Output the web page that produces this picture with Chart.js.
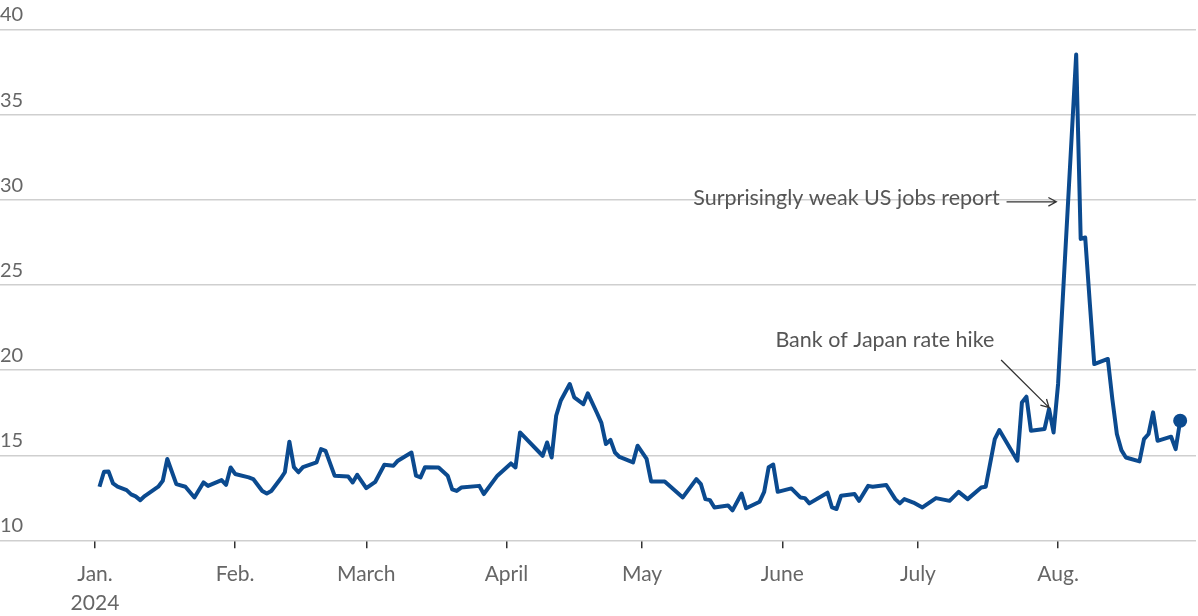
<!DOCTYPE html>
<html>
<head>
<meta charset="utf-8">
<title>VIX 2024</title>
<script src="https://cdn.jsdelivr.net/npm/chart.js@4"></script>
<style>
    body { margin: 0; background: #fff; }
    #wrap { width: 1198px; height: 616px; }
</style>
</head>
<body>
<div id="wrap"><canvas id="myChart"></canvas></div>
<script>
// days counted from Jan. 1 2024 (day 0)
const days = [1, 2, 3, 4, 5, 7, 8, 9, 10, 11, 14, 15, 16, 18, 20, 22, 24, 25, 28, 29,
    30, 31, 34, 35, 37, 38, 39, 41, 42, 43, 44, 45, 46, 49, 50, 51, 53, 56, 57, 58,
    60, 62, 64, 66, 67, 70, 71, 72, 73, 76, 78, 79, 80, 81, 85, 86, 89, 92, 93, 94,
    99, 100, 101, 102, 103, 105, 106, 108, 109, 111, 112, 113, 114, 115, 116, 119, 120, 122, 123, 126,
    130, 133, 134, 135, 136, 137, 140, 141, 143, 144, 147, 148, 149, 150, 151, 154, 156, 157, 158, 162,
    163, 164, 165, 168, 169, 171, 172, 175, 177, 178, 179, 181, 183, 186, 189, 191, 193, 196, 197, 199,
    200, 204, 205, 206, 207, 210, 211, 212, 213, 217, 218, 219, 220, 221, 224, 225, 226, 227, 228, 231,
    232, 233, 234, 235, 238, 239, 240];
const vix = [13.15, 14.03, 14.05, 13.34, 13.15, 12.95, 12.7, 12.58, 12.36, 12.6, 13.15, 13.5, 14.78, 13.3, 13.15, 12.52, 13.4, 13.2, 13.54, 13.26,
    14.28, 13.9, 13.7, 13.6, 12.9, 12.75, 12.9, 13.6, 14.0, 15.8, 14.3, 14.0, 14.3, 14.58, 15.36, 15.26, 13.8, 13.75, 13.4, 13.85,
    13.07, 13.44, 14.44, 14.38, 14.68, 15.16, 13.8, 13.7, 14.3, 14.28, 13.8, 13.0, 12.9, 13.1, 13.2, 12.72, 13.8, 14.52, 14.28, 16.34,
    14.97, 15.75, 14.87, 17.32, 18.2, 19.19, 18.4, 18.0, 18.64, 17.5, 16.9, 15.66, 15.9, 15.16, 14.9, 14.58, 15.56, 14.78, 13.46, 13.46,
    12.52, 13.6, 13.3, 12.42, 12.36, 11.93, 12.05, 11.76, 12.75, 11.88, 12.27, 12.85, 14.3, 14.45, 12.85, 13.05, 12.52, 12.48, 12.17, 12.8,
    11.93, 11.84, 12.62, 12.72, 12.32, 13.2, 13.15, 13.25, 12.42, 12.17, 12.42, 12.22, 11.93, 12.48, 12.32, 12.85, 12.42, 13.1, 13.15, 15.95,
    16.48, 14.68, 18.1, 18.44, 16.44, 16.54, 17.72, 16.34, 19.19, 38.56, 27.72, 27.8, 24.0, 20.36, 20.66, 18.3, 16.25, 15.3, 14.87, 14.64,
    15.95, 16.25, 17.52, 15.85, 16.09, 15.36, 17.03];

const monthDays = [0, 31, 60, 91, 121, 152, 182, 213];
const monthLabels = [["Jan.", "2024"], "Feb.", "March", "April", "May", "June", "July", "Aug."];
const yTicks = [10, 15, 20, 25, 30, 35, 40];

// annotations: text anchored by its right end, arrow from -> to (day, value)
const notes = [
    { text: "Surprisingly weak US jobs report", at: [200.1, 30.1], from: [201.6, 29.9], to: [212.6, 29.9] },
    { text: "Bank of Japan rate hike", at: [198.9, 21.8], from: [200.4, 20.6], to: [211, 17.8] },
];

const FONT = "Lato, 'Source Sans Pro', 'Noto Sans', sans-serif";

const notePlugin = {
    id: "notes",
    afterDatasetsDraw(chart) {
        const ctx = chart.ctx;
        const xs = chart.scales.x;
        const ys = chart.scales.y;
        ctx.save();
        ctx.font = "21.5px " + FONT;
        ctx.fillStyle = "#555";
        ctx.textAlign = "right";
        ctx.textBaseline = "middle";
        notes.forEach(function (n) {
            ctx.fillText(n.text, xs.getPixelForValue(n.at[0]), ys.getPixelForValue(n.at[1]));
            const x1 = xs.getPixelForValue(n.from[0]), y1 = ys.getPixelForValue(n.from[1]);
            const x2 = xs.getPixelForValue(n.to[0]), y2 = ys.getPixelForValue(n.to[1]);
            const a = Math.atan2(y2 - y1, x2 - x1);
            ctx.strokeStyle = "#333";
            ctx.lineWidth = 1.3;
            ctx.beginPath();
            ctx.moveTo(x1, y1);
            ctx.lineTo(x2, y2);
            ctx.moveTo(x2 - 9 * Math.cos(a - 0.5), y2 - 9 * Math.sin(a - 0.5));
            ctx.lineTo(x2, y2);
            ctx.lineTo(x2 - 9 * Math.cos(a + 0.5), y2 - 9 * Math.sin(a + 0.5));
            ctx.stroke();
        });
        ctx.restore();
    },
};

const points = days.map(function (d, i) { return { x: d, y: vix[i] }; });
const radii = vix.map(function (v, i) { return i === vix.length - 1 ? 7 : 0; });

const config = {
    type: "line",
    data: {
        datasets: [
            {
                label: "VIX",
                data: points,
                borderColor: "#0b4a8f",
                backgroundColor: "#0b4a8f",
                borderWidth: 4,
                pointRadius: radii,
                pointBorderWidth: 0,
                tension: 0,
                borderJoinStyle: "round",
            },
        ],
    },
    options: {
        responsive: true,
        maintainAspectRatio: false,
        animation: false,
        layout: { autoPadding: false, padding: { top: 30, right: 2, left: 0, bottom: -13 } },
        plugins: {
            legend: { display: false },
            tooltip: { enabled: false },
        },
        scales: {
            x: {
                type: "linear",
                min: -21,
                max: 243.5,
                afterBuildTicks: function (axis) {
                    axis.ticks = monthDays.map(function (d) { return { value: d }; });
                },
                afterFit: function (axis) {
                    axis.paddingLeft = 0;
                    axis.paddingRight = 0;
                },
                ticks: {
                    autoSkip: false,
                    maxRotation: 0,
                    padding: 12,
                    color: "#666",
                    font: { family: FONT, size: 21, lineHeight: 1.35 },
                    callback: function (v) {
                        const i = monthDays.indexOf(v);
                        return i >= 0 ? monthLabels[i] : "";
                    },
                },
                grid: {
                    drawOnChartArea: false,
                    drawTicks: true,
                    tickLength: 8,
                    color: "#333",
                    lineWidth: 1.5,
                },
                border: { display: false },
            },
            y: {
                min: 10,
                max: 40,
                afterBuildTicks: function (axis) {
                    axis.ticks = yTicks.map(function (v) { return { value: v }; });
                },
                afterFit: function (axis) {
                    axis.width = 0;
                },
                ticks: {
                    mirror: true,
                    padding: 0,
                    labelOffset: -15,
                    color: "#666",
                    font: { family: FONT, size: 20 },
                },
                grid: {
                    color: "#cfcfcf",
                    lineWidth: 1.5,
                    drawTicks: false,
                },
                border: { display: false },
            },
        },
    },
    plugins: [notePlugin],
};

new Chart(document.getElementById("myChart"), config);
</script>
</body>
</html>
